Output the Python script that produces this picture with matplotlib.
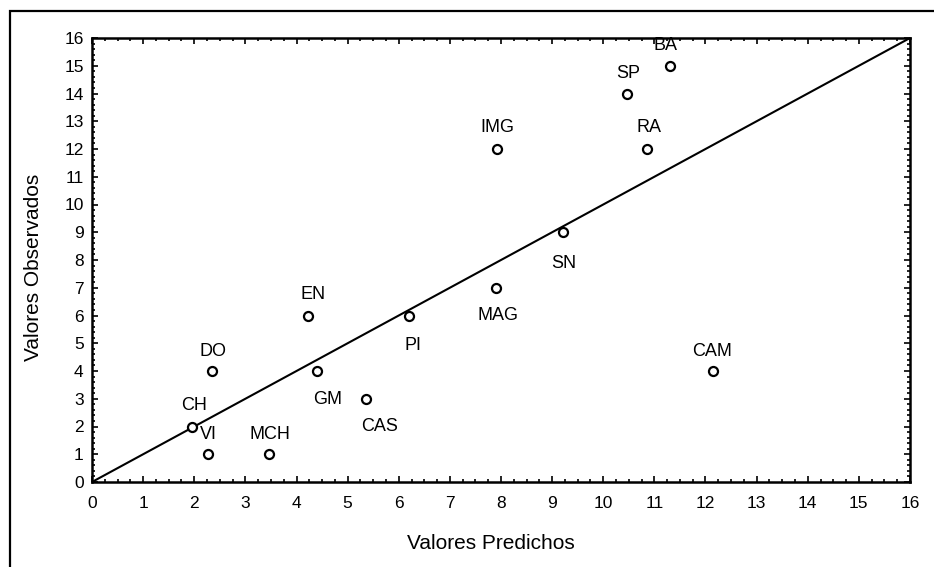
import matplotlib
matplotlib.use("agg")
import matplotlib.pyplot as plt
from matplotlib.patches import Rectangle
from matplotlib.ticker import MultipleLocator

plt.rcParams['font.family'] = ['Liberation Sans', 'DejaVu Sans']

# datos: valores predichos vs observados
etiquetas = ['BA', 'SP', 'RA', 'IMG', 'SN', 'MAG', 'PI', 'EN', 'DO', 'GM',
             'CAS', 'CH', 'VI', 'MCH', 'CAM']
predichos = [11.31, 10.46, 10.85, 7.93, 9.21, 7.90, 6.20, 4.22, 2.34, 4.41,
             5.35, 1.96, 2.26, 3.47, 12.15]
observados = [15, 14, 12, 12, 9, 7, 6, 6, 4, 4, 3, 2, 1, 1, 4]

# desplazamiento de cada etiqueta (pixeles)
desplaz = {'BA': (-5, 20), 'SP': (1, 20), 'RA': (2, 21), 'IMG': (0, 21),
           'SN': (1, -31), 'MAG': (2, -28), 'PI': (4, -30), 'EN': (5, 21),
           'DO': (1, 19), 'GM': (10, -29), 'CAS': (14, -28), 'CH': (2, 21),
           'VI': (1, 20), 'MCH': (1, 20), 'CAM': (-1, 19)}

fig = plt.figure(figsize=(9.34, 5.67), dpi=100)
ax = fig.add_axes([92/934, 1 - 482/567, 818/934, 444/567])

# marco exterior
fig.patches.append(Rectangle((10/934, -0.1), 1.2, 1 - 11/567 + 0.1,
                             transform=fig.transFigure, fill=False,
                             edgecolor='black', linewidth=1.6))

ax.plot([0, 16], [0, 16], color='black', linewidth=1.5, zorder=2)
ax.plot(predichos, observados, linestyle='none', marker='o', markersize=6.5,
        markerfacecolor='white', markeredgecolor='black',
        markeredgewidth=1.6, zorder=3)

for et, x, y in zip(etiquetas, predichos, observados):
    ax.annotate(et, (x, y), xytext=desplaz[et], textcoords='offset pixels',
                ha='center', va='center', fontsize=13)

ax.set_xlim(0, 16)
ax.set_ylim(0, 16)
ax.xaxis.set_major_locator(MultipleLocator(1))
ax.yaxis.set_major_locator(MultipleLocator(1))
ax.xaxis.set_minor_locator(MultipleLocator(0.25))
ax.yaxis.set_minor_locator(MultipleLocator(0.2))
ax.tick_params(which='both', direction='in', top=True, right=True,
               labelsize=12.5, width=1.2)
ax.tick_params(which='major', length=4)
ax.tick_params(which='minor', length=2.2)
ax.tick_params(axis='x', pad=10)
ax.tick_params(axis='y', pad=6)
for s in ax.spines.values():
    s.set_linewidth(1.8)

ax.set_xlabel('Valores Predichos', fontsize=15)
ax.set_ylabel('Valores Observados', fontsize=15)
ax.xaxis.set_label_coords(0.488, -0.118)
ax.yaxis.set_label_coords(-0.06, 0.484)

fig.savefig('out.png', dpi=100)
